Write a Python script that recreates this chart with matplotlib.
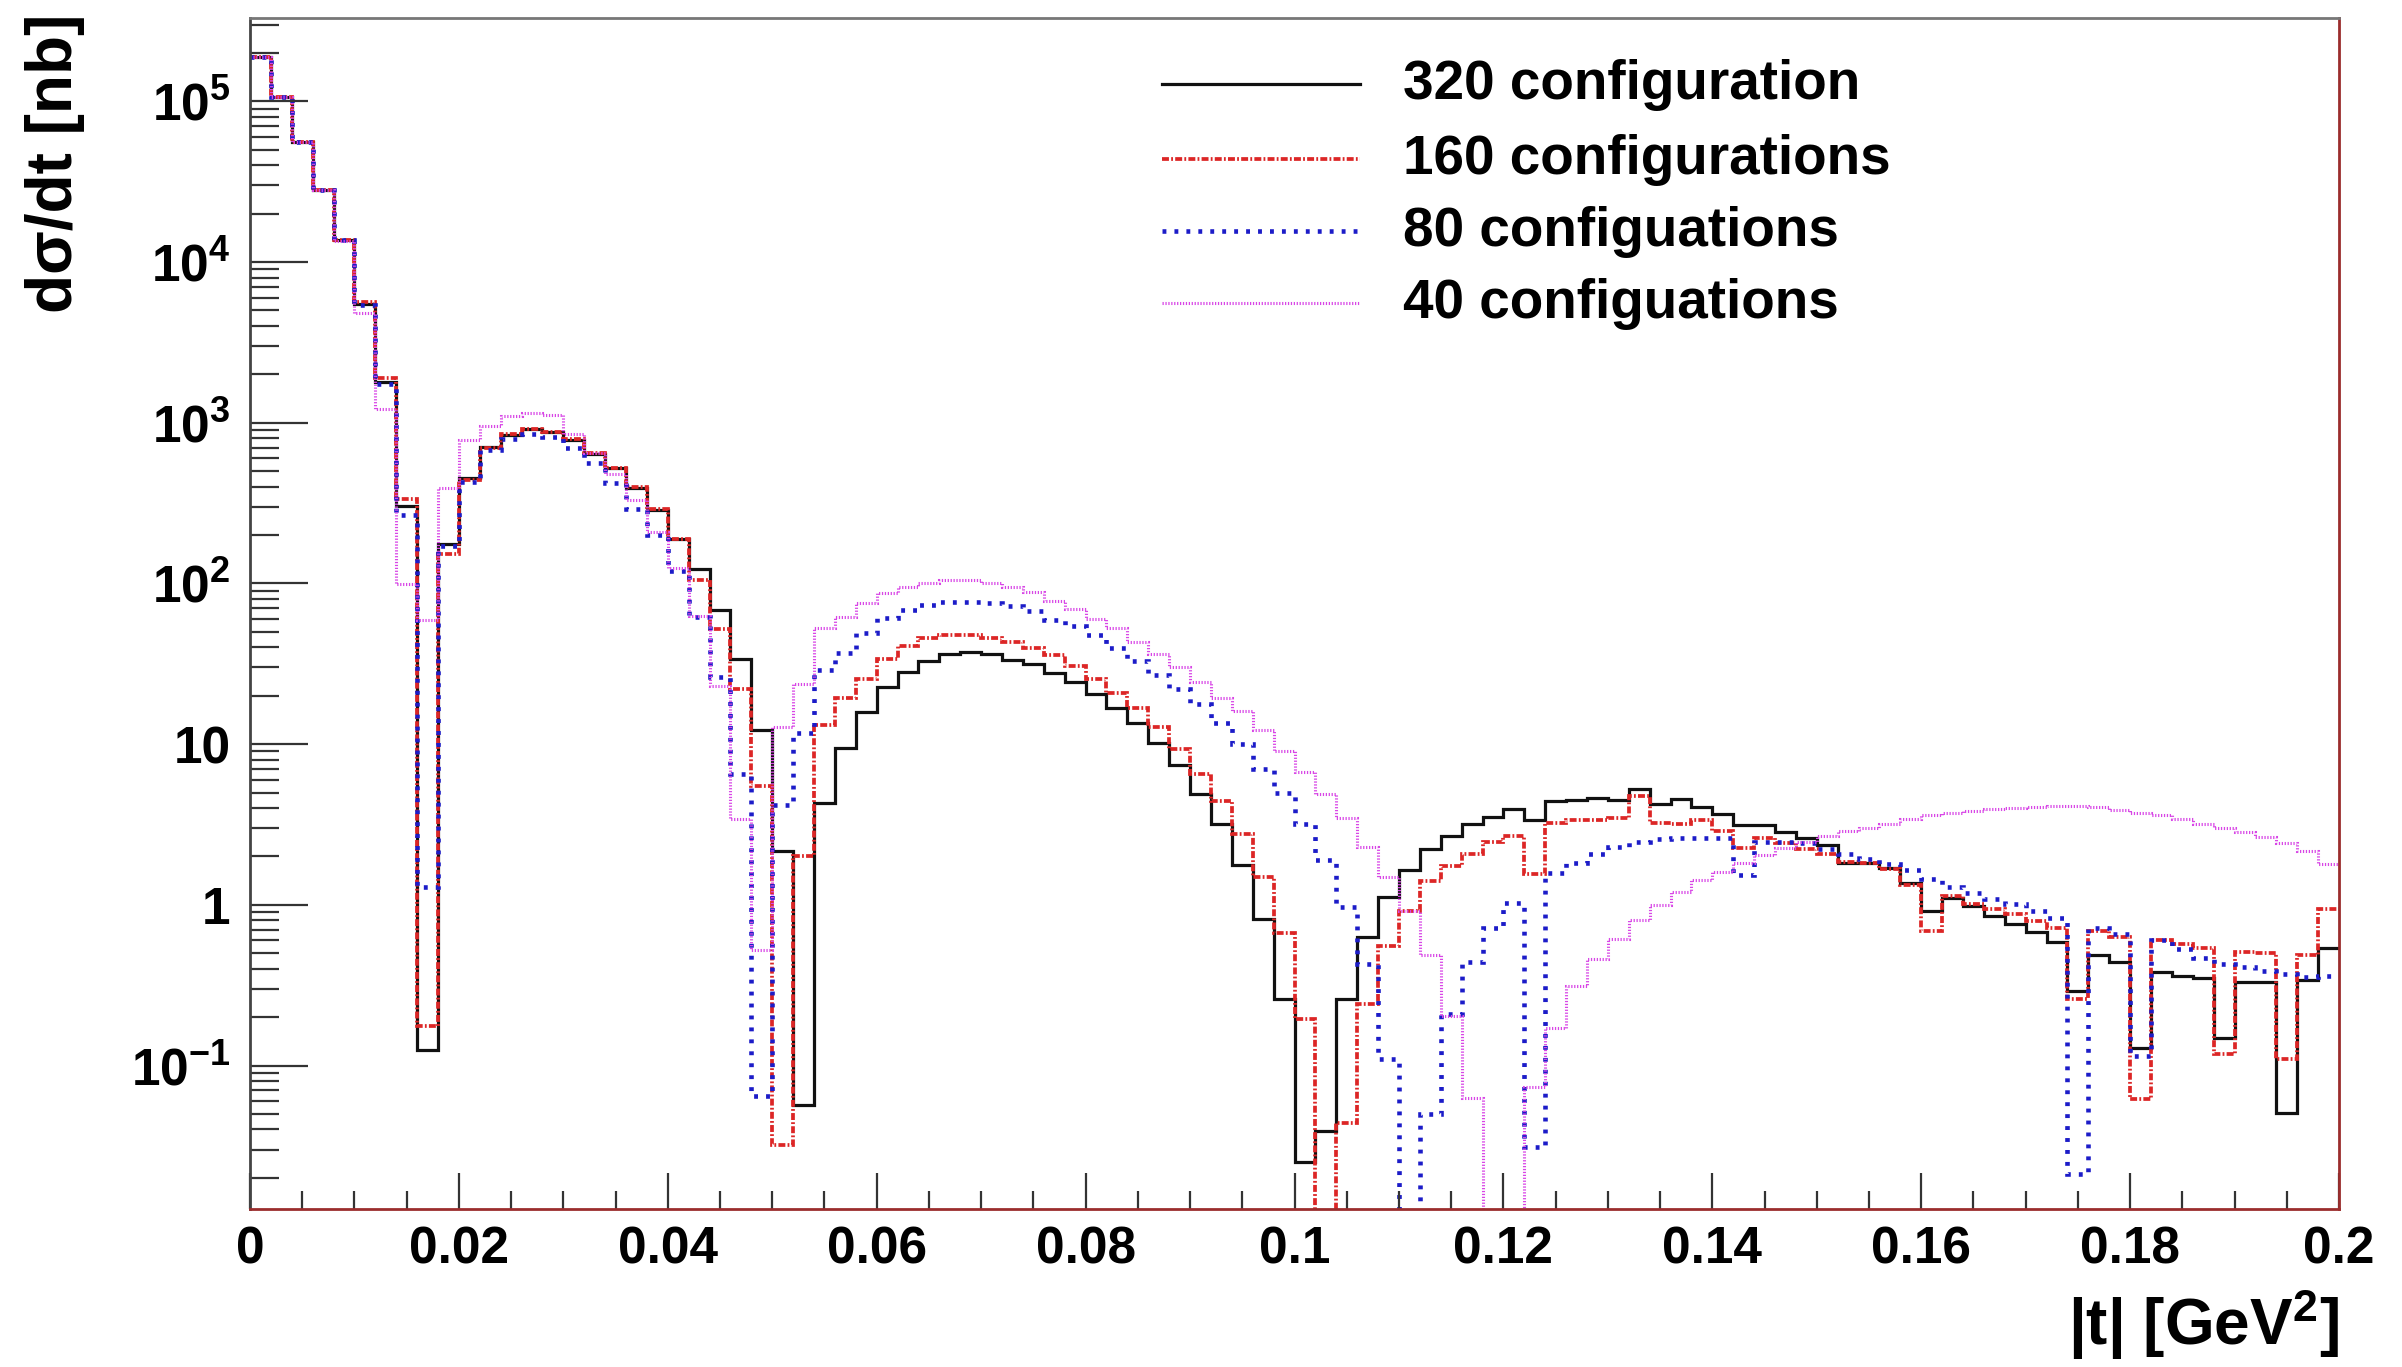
import numpy as np
import matplotlib
matplotlib.use("Agg")
import matplotlib.pyplot as plt
from matplotlib.ticker import FixedLocator, FixedFormatter, LogLocator, NullFormatter, MultipleLocator
from matplotlib.lines import Line2D

plt.rcParams['font.family'] = ['Liberation Sans', 'DejaVu Sans']
plt.rcParams['font.weight'] = 'bold'
plt.rcParams['mathtext.fontset'] = 'custom'
plt.rcParams['mathtext.rm'] = 'Liberation Sans:bold'
plt.rcParams['mathtext.it'] = 'Liberation Sans:bold'
plt.rcParams['mathtext.bf'] = 'Liberation Sans:bold'
plt.rcParams['mathtext.sf'] = 'Liberation Sans:bold'
plt.rcParams['lines.scale_dashes'] = False

# ---------------- data (100 bins, |t| from 0 to 0.2 GeV^2) ----------------
t_min, t_max, n_bins = 0.0, 0.2, 100

series_labels = ["320 configuration", "160 configurations",
                 "80 configuations", "40 configuations"]

# values below the axis minimum are drawn as 1e-3 (off scale)
conf320 = [1.9e5, 1.07e5, 5.6e4, 2.8e4, 1.38e4, 5.5e3, 1.8e3, 305, 0.125, 175,
           450, 710, 840, 910, 870, 780, 640, 520, 390, 285,
           190, 123, 68, 34, 12.2, 2.15, 0.057, 4.3, 9.4, 15.8,
           22.8, 28.3, 33, 36.2, 37.4, 36.2, 33.4, 31.4, 27.9, 24.3,
           20.5, 16.8, 13.5, 10.1, 7.4, 4.9, 3.2, 1.78, 0.82, 0.26,
           0.025, 0.039, 0.26, 0.63, 1.12, 1.65, 2.22, 2.67, 3.2, 3.5,
           3.95, 3.35, 4.4, 4.5, 4.6, 4.5, 5.25, 4.25, 4.55, 4.05,
           3.7, 3.15, 3.15, 2.85, 2.6, 2.36, 1.81, 1.81, 1.69, 1.36,
           0.92, 1.11, 0.99, 0.85, 0.76, 0.68, 0.59, 0.29, 0.49, 0.44,
           0.128, 0.38, 0.36, 0.35, 0.148, 0.33, 0.33, 0.051, 0.34, 0.54]

conf160 = [1.9e5, 1.07e5, 5.6e4, 2.8e4, 1.38e4, 5.6e3, 1.9e3, 335, 0.175, 152,
           440, 700, 850, 920, 880, 790, 650, 520, 400, 290,
           190, 105, 52, 22, 5.5, 0.032, 2.0, 13.2, 19.5, 25.5,
           34, 41, 45.7, 47.7, 47.7, 45.7, 43.5, 39.7, 35.7, 30.5,
           25.4, 20.8, 16.8, 12.7, 9.3, 6.5, 4.45, 2.75, 1.5, 0.665,
           0.195, 0.001, 0.044, 0.24, 0.555, 0.91, 1.4, 1.75, 2.07, 2.45,
           2.7, 1.56, 3.22, 3.38, 3.35, 3.47, 4.78, 3.22, 3.19, 3.38,
           2.86, 2.25, 2.6, 2.44, 2.21, 2.07, 1.85, 1.81, 1.66, 1.32,
           0.69, 1.14, 1.01, 0.94, 0.875, 0.79, 0.72, 0.26, 0.69, 0.63,
           0.062, 0.60, 0.57, 0.54, 0.118, 0.51, 0.50, 0.11, 0.49, 0.94]

conf80 = [1.9e5, 1.07e5, 5.6e4, 2.8e4, 1.38e4, 5.4e3, 1.75e3, 265, 1.3, 170,
          430, 680, 790, 850, 810, 700, 560, 420, 290, 200,
          120, 62, 26, 6.5, 0.065, 4.2, 11.8, 29, 37, 49,
          61, 68, 73.5, 76.7, 76.7, 75.9, 72, 67, 59.3, 54,
          47.8, 39.7, 33, 26.9, 22.1, 17.8, 13.5, 10, 7.0, 5.0,
          3.2, 1.9, 0.97, 0.43, 0.11, 0.001, 0.05, 0.21, 0.44, 0.72,
          1.02, 0.031, 1.58, 1.83, 2.07, 2.3, 2.47, 2.56, 2.6, 2.6,
          2.6, 1.53, 2.47, 2.47, 2.44, 2.21, 2.07, 1.92, 1.79, 1.64,
          1.45, 1.29, 1.19, 1.08, 1.01, 0.92, 0.83, 0.021, 0.72, 0.66,
          0.115, 0.60, 0.53, 0.47, 0.43, 0.41, 0.39, 0.37, 0.355, 0.36]

conf40 = [1.9e5, 1.07e5, 5.6e4, 2.8e4, 1.35e4, 4.8e3, 1.22e3, 99, 59, 390,
          780, 960, 1100, 1150, 1120, 850, 650, 480, 330, 210,
          125, 63, 23, 3.4, 0.52, 12.7, 23.7, 53, 62, 76,
          87, 95, 101, 105, 105, 101, 95, 88.5, 78, 69,
          60, 52.5, 43.5, 36.2, 30.2, 24.3, 19.5, 16, 12.2, 9.1,
          6.7, 4.9, 3.47, 2.28, 1.5, 0.91, 0.49, 0.204, 0.063, 0.001,
          0.001, 0.074, 0.172, 0.314, 0.46, 0.615, 0.80, 1.0, 1.2, 1.43,
          1.61, 1.81, 2.04, 2.25, 2.47, 2.69, 2.86, 3.0, 3.19, 3.41,
          3.63, 3.72, 3.85, 3.94, 4.0, 4.07, 4.1, 4.1, 4.05, 3.9,
          3.75, 3.6, 3.4, 3.2, 3.0, 2.82, 2.65, 2.44, 2.17, 1.79]

x_ticks = [0, 0.02, 0.04, 0.06, 0.08, 0.1, 0.12, 0.14, 0.16, 0.18, 0.2]
x_tick_labels = ["0", "0.02", "0.04", "0.06", "0.08", "0.1", "0.12",
                 "0.14", "0.16", "0.18", "0.2"]
y_ticks = [1e-1, 1, 10, 1e2, 1e3, 1e4, 1e5]
y_tick_labels = [r"$10^{-1}$", "1", "10", r"$10^{2}$", r"$10^{3}$",
                 r"$10^{4}$", r"$10^{5}$"]

# ---------------- figure ----------------
W, H = 2402, 1367
fig = plt.figure(figsize=(W / 100, H / 100), dpi=100)
left, right, top, bottom = 250, 2339, 18, 1209
ax = fig.add_axes([left / W, 1 - bottom / H, (right - left) / W, (bottom - top) / H])

edges = np.linspace(t_min, t_max, n_bins + 1)

styles = [
    dict(color="#111111", linewidth=2.3, linestyle="-"),
    dict(color="#dc2626", linewidth=2.7, linestyle=(0, (5.0, 1.6, 1.3, 1.6))),
    dict(color="#1c1cc8", linewidth=3.3, linestyle=(0, (2.8, 5.8))),
    dict(color="#d846e6", linewidth=2.2, linestyle=(0, (0.9, 1.2))),
]
data = [conf320, conf160, conf80, conf40]

for vals, st in zip(data, styles):
    ax.stairs(vals, edges, baseline=None, **st)

ax.set_yscale("log")
ax.set_xlim(t_min, t_max)
ax.set_ylim(0.0128, 3.3e5)

ax.xaxis.set_major_locator(FixedLocator(x_ticks))
ax.xaxis.set_major_formatter(FixedFormatter(x_tick_labels))
ax.xaxis.set_minor_locator(MultipleLocator(0.005))
ax.yaxis.set_major_locator(FixedLocator(y_ticks))
ax.yaxis.set_major_formatter(FixedFormatter(y_tick_labels))
ax.yaxis.set_minor_locator(LogLocator(base=10, subs=np.arange(2, 10), numticks=100))
ax.yaxis.set_minor_formatter(NullFormatter())

tick_col = "#333333"
ax.tick_params(axis="x", which="major", direction="in", length=26, width=1.6,
               color=tick_col, pad=12, labelsize=37)
ax.tick_params(axis="x", which="minor", direction="in", length=13, width=1.6,
               color=tick_col)
ax.tick_params(axis="y", which="major", direction="in", length=42, width=1.6,
               color=tick_col, pad=14, labelsize=37)
ax.tick_params(axis="y", which="minor", direction="in", length=21, width=1.6,
               color=tick_col)
ax.tick_params(top=False, right=False, which="both")
for lab in ax.get_xticklabels() + ax.get_yticklabels():
    lab.set_fontweight("bold")

ax.spines["left"].set_color("#444444")
ax.spines["top"].set_color("#777777")
ax.spines["bottom"].set_color("#9b2d2d")
ax.spines["right"].set_color("#9b2d2d")
for s in ax.spines.values():
    s.set_linewidth(2.0)

# axis titles
fig.text(55 / W, 1 - 14 / H, "dσ/dt [nb]", rotation=90, ha="center", va="top",
         fontsize=46, fontweight="bold")
fig.text(right / W, 1 - 1325 / H, r"|t| [GeV$^{2}$]", ha="right", va="center",
         fontsize=46, fontweight="bold")

# legend (no frame, ROOT style)
line_y = [84, 159, 231, 303]
base_y = [99, 174, 246, 318]
for lab, st, ly, by in zip(series_labels, styles, line_y, base_y):
    fig.add_artist(Line2D([1162 / W, 1360 / W], [1 - ly / H, 1 - ly / H],
                          transform=fig.transFigure, **st))
    fig.text(1403 / W, 1 - by / H, lab, ha="left", va="baseline",
             fontsize=39.5, fontweight="bold")

fig.savefig("out.png", dpi=100, facecolor="white")
